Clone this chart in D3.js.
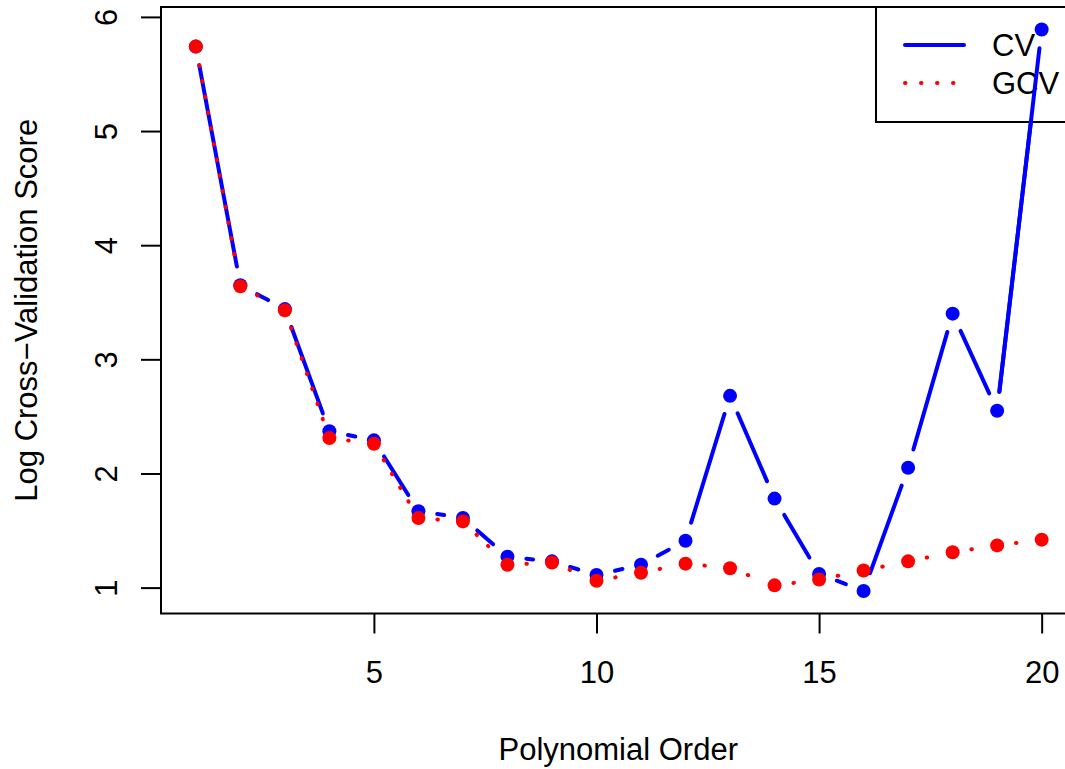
<!DOCTYPE html>
<html>
<head>
<meta charset="utf-8">
<script src="https://cdn.jsdelivr.net/npm/d3@7"></script>
<style>
  body { margin: 0; background: #fff; }
  text { font-family: "Liberation Sans", Arial, Helvetica, sans-serif; }
</style>
</head>
<body>
<div id="chart"></div>
<script>
// polynomial orders and the two scores
const orders = d3.range(1, 21)
const cv  = [5.74, 3.65, 3.44, 2.37, 2.29, 1.67, 1.61, 1.27, 1.23, 1.11,
             1.20, 1.41, 2.68, 1.78, 1.12, 0.97, 2.05, 3.40, 2.55, 5.89]
const gcv = [5.74, 3.64, 3.43, 2.31, 2.26, 1.61, 1.58, 1.20, 1.22, 1.06,
             1.13, 1.21, 1.17, 1.02, 1.07, 1.15, 1.23, 1.31, 1.37, 1.42]
const xTicks = [5, 10, 15, 20]
const yTicks = [1, 2, 3, 4, 5, 6]
const legendLabels = ['CV', 'GCV']

const width = 1065, height = 769
const plot = { left: 161, right: 1075.5, top: 7, bottom: 613.5 }
const fontSize = 31
const gap = 19 // type="b" gap around each point

const svg = d3.select('#chart').append('svg')
    .attr('width', width)
    .attr('height', height)

// R style: 4% padding on each side of the data range
const xScale = d3.scaleLinear()
    .domain([1 - 0.04 * 19, 20 + 0.04 * 19])
    .range([plot.left + 1, plot.right])
const yLo = d3.min(cv.concat(gcv)), yHi = d3.max(cv.concat(gcv))
const yPad = (yHi - yLo) * 0.04
const yScale = d3.scaleLinear()
    .domain([yLo - yPad, yHi + yPad])
    .range([plot.bottom, plot.top])

// x axis
const gx = svg.append('g')
    .attr('transform', 'translate(0,' + plot.bottom + ')')
    .call(d3.axisBottom(xScale).tickValues(xTicks).tickSize(20).tickFormat(d3.format('d')))
gx.select('.domain').remove()
gx.selectAll('.tick line').attr('stroke', '#000').attr('stroke-width', 2)
gx.selectAll('.tick text')
    .attr('y', 683 - plot.bottom)
    .attr('dy', 0)
    .attr('fill', '#000')
    .style('font-size', fontSize + 'px')

// y axis
const gy = svg.append('g')
    .attr('transform', 'translate(' + plot.left + ',0)')
    .call(d3.axisLeft(yScale).tickValues(yTicks).tickSize(20).tickFormat(d3.format('d')))
gy.select('.domain').remove()
gy.selectAll('.tick line').attr('stroke', '#000').attr('stroke-width', 2)
gy.selectAll('.tick text')
    .attr('x', 0).attr('y', 0).attr('dy', 0)
    .attr('text-anchor', 'middle')
    .attr('transform', 'translate(' + (117 - plot.left) + ',0) rotate(-90)')
    .attr('fill', '#000')
    .style('font-size', fontSize + 'px')

// axis titles
svg.append('text')
    .attr('x', (plot.left + plot.right) / 2)
    .attr('y', 760)
    .attr('text-anchor', 'middle')
    .style('font-size', fontSize + 'px')
    .text('Polynomial Order')

svg.append('text')
    .attr('transform', 'translate(37,' + ((plot.top + plot.bottom) / 2) + ') rotate(-90)')
    .attr('text-anchor', 'middle')
    .style('font-size', fontSize + 'px')
    .text('Log Cross\u2212Validation Score')

// segments between points, shortened at both ends like type="b"
function gapSegments(values) {
    let segs = []
    for (let i = 0; i < values.length - 1; i++) {
        let x1 = xScale(orders[i]), y1 = yScale(values[i])
        let x2 = xScale(orders[i + 1]), y2 = yScale(values[i + 1])
        let dx = x2 - x1, dy = y2 - y1
        let len = Math.sqrt(dx * dx + dy * dy)
        if (len <= 2 * gap) continue
        let ux = dx / len, uy = dy / len
        segs.push([x1 + ux * gap, y1 + uy * gap, x2 - ux * gap, y2 - uy * gap])
    }
    return segs
}

function drawSeries(values, color, dash) {
    svg.append('g').selectAll('line')
        .data(gapSegments(values))
        .join('line')
        .attr('x1', d => d[0]).attr('y1', d => d[1])
        .attr('x2', d => d[2]).attr('y2', d => d[3])
        .attr('stroke', color)
        .attr('stroke-width', 4)
        .attr('stroke-linecap', 'round')
        .attr('stroke-dasharray', dash)
    svg.append('g').selectAll('circle')
        .data(values)
        .join('circle')
        .attr('cx', (d, i) => xScale(orders[i]))
        .attr('cy', d => yScale(d))
        .attr('r', 7)
        .attr('fill', color)
}

drawSeries(cv, '#0000ff', null)
drawSeries(gcv, '#ff0000', '0.5,15.5')

// plot box
svg.append('rect')
    .attr('x', plot.left).attr('y', plot.top)
    .attr('width', plot.right - plot.left)
    .attr('height', plot.bottom - plot.top)
    .attr('fill', 'none')
    .attr('stroke', '#000')
    .attr('stroke-width', 2)

// legend (top right)
const legend = svg.append('g')
legend.append('rect')
    .attr('x', 876).attr('y', plot.top)
    .attr('width', plot.right - 876)
    .attr('height', 122 - plot.top)
    .attr('fill', '#fff')
    .attr('stroke', '#000')
    .attr('stroke-width', 2)

const legendColors = ['#0000ff', '#ff0000']
const legendDash = [null, '0.5,15.5']
legendLabels.forEach((lab, i) => {
    let ly = 45 + i * 38
    legend.append('line')
        .attr('x1', 905).attr('x2', 964)
        .attr('y1', ly).attr('y2', ly)
        .attr('stroke', legendColors[i])
        .attr('stroke-width', 4)
        .attr('stroke-linecap', 'round')
        .attr('stroke-dasharray', legendDash[i])
    legend.append('text')
        .attr('x', 992)
        .attr('y', ly + 11)
        .style('font-size', fontSize + 'px')
        .text(lab)
})

// the last CV segment runs over the legend box, so draw it again on top
const last = gapSegments(cv).slice(-1)
svg.append('g').selectAll('line')
    .data(last)
    .join('line')
    .attr('x1', d => d[0]).attr('y1', d => d[1])
    .attr('x2', d => d[2]).attr('y2', d => d[3])
    .attr('stroke', '#0000ff')
    .attr('stroke-width', 4)
    .attr('stroke-linecap', 'round')
svg.append('circle')
    .attr('cx', xScale(20)).attr('cy', yScale(cv[19]))
    .attr('r', 7)
    .attr('fill', '#0000ff')
</script>
</body>
</html>
